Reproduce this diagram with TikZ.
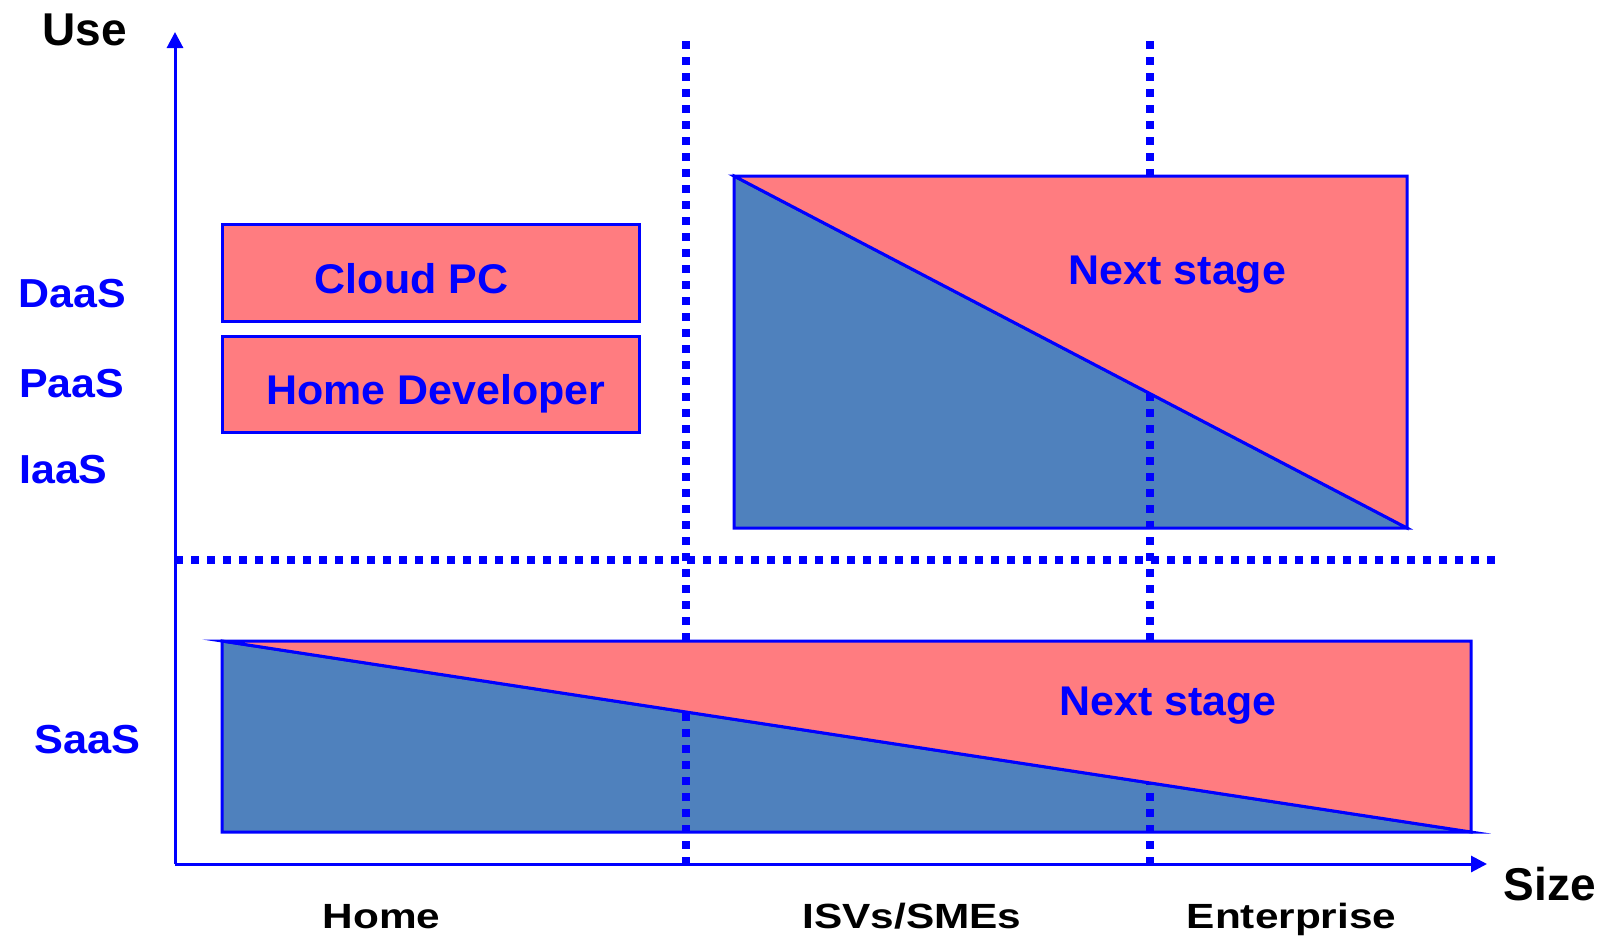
\documentclass[tikz,border=0pt]{standalone}
\usepackage{fontspec}
\setmainfont{Liberation Sans}
\usetikzlibrary{arrows.meta}
\definecolor{pinkfill}{RGB}{255,124,128}
\definecolor{bluefill}{RGB}{79,129,189}
\definecolor{lineblue}{RGB}{0,0,255}
\newcommand{\wideby}[2]{\scalebox{#1}[1]{#2}}
\begin{document}
\begin{tikzpicture}[x=1pt,y=-1pt,
  axisline/.style={draw=lineblue,line width=3pt,-{Triangle[width=16pt,length=16pt]}},
  dotline/.style={draw=lineblue,line width=7.5pt,dash pattern=on 7.5pt off 8.5pt},
  redtri/.style={fill=pinkfill,draw=lineblue,line width=3pt,line join=miter,miter limit=25},
  bluetri/.style={fill=bluefill,draw=lineblue,line width=3pt,line join=miter,miter limit=25},
  plainbox/.style={fill=pinkfill,draw=lineblue,line width=3pt},
  boxlabel/.style={text=lineblue,font=\fontsize{41.5}{45}\selectfont\bfseries,inner sep=0pt,anchor=base},
  sidelabel/.style={text=lineblue,font=\fontsize{40.5}{44}\selectfont\bfseries,inner sep=0pt,anchor=base west},
  axislabel/.style={text=black,font=\fontsize{46}{50}\selectfont\bfseries,inner sep=0pt,anchor=base},
  catlabel/.style={text=black,font=\fontsize{35}{40}\selectfont\bfseries,inner sep=0pt,anchor=base}
]
\useasboundingbox (0,0) rectangle (1606,940);

% coordinates
\coordinate (origin) at (175,864);
\coordinate (ytip) at (175,32);
\coordinate (xtip) at (1487,864);
\coordinate (v1top) at (686,41);
\coordinate (v1bot) at (686,864);
\coordinate (v2top) at (1150,41);
\coordinate (v2bot) at (1150,864);
\coordinate (hleft) at (175,560);
\coordinate (hright) at (1495,560);

\coordinate (uTL) at (734,176);
\coordinate (uTR) at (1407,176);
\coordinate (uBL) at (734,528);
\coordinate (uBR) at (1407,528);
\coordinate (lTL) at (222,641);
\coordinate (lTR) at (1471,641);
\coordinate (lBL) at (222,832);
\coordinate (lBR) at (1471,832);

% blue (lower) triangles
\path[bluetri] (uTL) -- (uBL) -- (uBR) -- cycle;
\path[bluetri] (lTL) -- (lBL) -- (lBR) -- cycle;

% dotted grid lines
\draw[dotline] (v1top) -- (v1bot);
\draw[dotline] (v2top) -- (v2bot);
\draw[dotline] (hleft) -- (hright);

% red (upper) triangles
\path[redtri] (uTL) -- (uTR) -- (uBR) -- cycle;
\path[redtri] (lTL) -- (lTR) -- (lBR) -- cycle;

% boxes
\path[plainbox] (222,224) rectangle (639,321);
\path[plainbox] (222,336) rectangle (639,432);

% axes
\draw[axisline] (origin) -- (ytip);
\draw[axisline] (origin) -- (xtip);

% labels
\node[boxlabel] (cloudpc) at (411.5,293) {\wideby{1.035}{Cloud PC}};
\node[boxlabel] (homedev) at (436,404) {\wideby{1.035}{Home Developer}};
\node[boxlabel] (next1) at (1177.5,284) {\wideby{1.035}{Next stage}};
\node[boxlabel] (next2) at (1168,715) {\wideby{1.035}{Next stage}};

\node[sidelabel] (daas) at (18.5,307) {\wideby{1.06}{DaaS}};
\node[sidelabel] (paas) at (19,397) {\wideby{1.06}{PaaS}};
\node[sidelabel] (iaas) at (19,483) {\wideby{1.06}{IaaS}};
\node[sidelabel] (saas) at (34,753) {\wideby{1.07}{SaaS}};

\node[axislabel] (use) at (84.5,45) {Use};
\node[axislabel] (size) at (1550,900) {Size};

\node[catlabel] (home) at (381.5,928) {\wideby{1.21}{Home}};
\node[catlabel] (isv) at (912,928) {\wideby{1.21}{ISVs/SMEs}};
\node[catlabel] (ent) at (1291.5,928) {\wideby{1.21}{Enterprise}};
\end{tikzpicture}
\end{document}
